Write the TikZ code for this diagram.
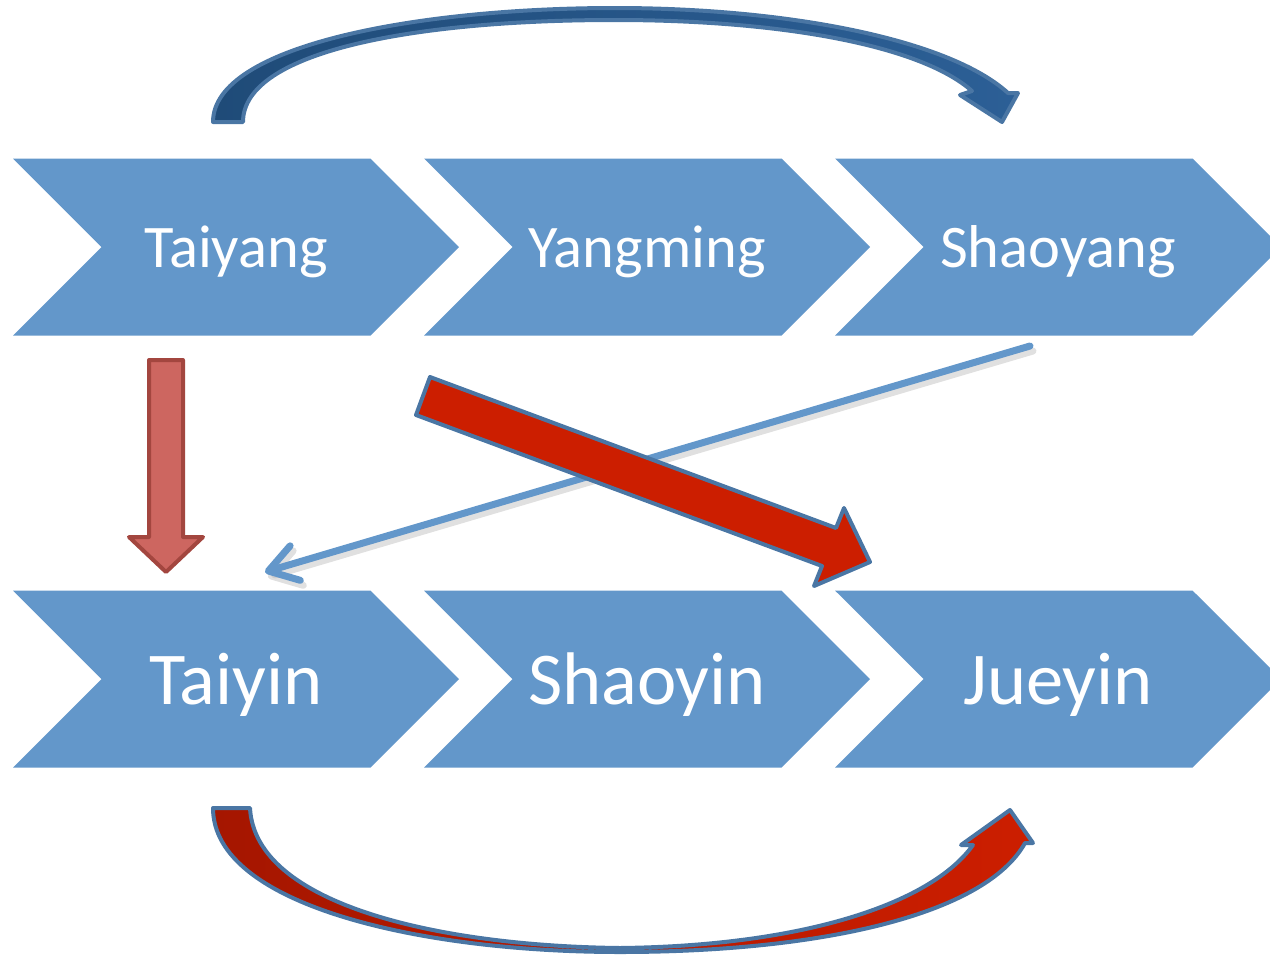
\documentclass[tikz,border=0pt]{standalone}
\usepackage{fontspec}
\setmainfont{Carlito}
\usetikzlibrary{shapes.symbols,arrows.meta}
\newcommand{\unitpx}[0]{0.025cm}
\definecolor{chevronblue}{HTML}{6397CA}
\definecolor{rimblue}{HTML}{4A76A4}
\definecolor{deepblue}{HTML}{1F4B78}
\definecolor{midblue}{HTML}{2C5F96}
\definecolor{darkred}{HTML}{A51600}
\definecolor{brightred}{HTML}{CC1E00}
\definecolor{palered}{HTML}{CD6660}
\definecolor{rimred}{HTML}{A3463F}

\begin{document}
\begin{tikzpicture}[x=\unitpx, y=-\unitpx]
  \tikzset{phase/.style={signal, signal to=east, signal from=west,
      signal pointer angle=90, fill=chevronblue, draw=none, text=white,
      minimum width=446*\unitpx, minimum height=177*\unitpx, inner sep=0pt,
      text depth=0pt},
    yangphase/.style={phase, font=\fontsize{43}{52}\selectfont},
    yinphase/.style={phase, font=\fontsize{53}{62}\selectfont},
    blockarrow/.style={line width=4*\unitpx, line join=round}}
  \useasboundingbox (0,0) rectangle (1270,955);
  \clip (0,0) rectangle (1270,955);
  \node[yangphase] (taiyang) at (236,247) {Taiyang};
  \node[yangphase] (yangming) at (647,247) {Yangming};
  \node[yangphase] (shaoyang) at (1058,247) {Shaoyang};
  \node[yinphase] (taiyin) at (236,679) {Taiyin};
  \node[yinphase] (shaoyin) at (647,679) {Shaoyin};
  \node[yinphase] (jueyin) at (1058,679) {Jueyin};
  \draw[blockarrow, draw=rimblue, left color=deepblue, right color=midblue]
    (213,122) .. controls (213,45) and (420,8) .. (615,8)
    .. controls (790,8) and (950,40) .. (1008,93)
    -- (1018,93) -- (1002,122) -- (960,95) -- (972,91)
    .. controls (920,45) and (780,20) .. (615,20)
    .. controls (420,20) and (243,50) .. (243,122) -- cycle;
  \draw[blockarrow, draw=rimred, fill=palered]
    (149,360) -- (183,360) -- (183,537) -- (203,537) -- (166,572)
    -- (129,537) -- (149,537) -- cycle;
  \coordinate (shaoyangfoot) at (1030,346);
  \coordinate (taiyinhead) at (265,572);
  \draw[black!30, line width=7*\unitpx, opacity=0.4, line cap=round,
      -{Straight Barb[length=28*\unitpx, width=36*\unitpx, round]}]
    ([shift={(3,5)}]shaoyangfoot) -- ([shift={(3,5)}]taiyinhead);
  \draw[chevronblue, line width=7*\unitpx, line cap=round,
      -{Straight Barb[length=28*\unitpx, width=36*\unitpx, round]}]
    (shaoyangfoot) -- (taiyinhead);
  \draw[blockarrow, draw=rimblue, fill=brightred]
    (430,377) -- (836,528) -- (844,508) -- (870,562) -- (814,586)
    -- (822,566) -- (416,415) -- cycle;
  \draw[blockarrow, draw=rimblue, left color=darkred, right color=brightred]
    (213,808) .. controls (213,905) and (420,952) .. (620,952)
    .. controls (820,952) and (985,915) .. (1025,843)
    -- (1033,843) -- (1010,810) -- (961,845) -- (973,845)
    .. controls (930,905) and (800,946) .. (620,948)
    .. controls (440,946) and (255,905) .. (250,808) -- cycle;
\end{tikzpicture}
\end{document}
